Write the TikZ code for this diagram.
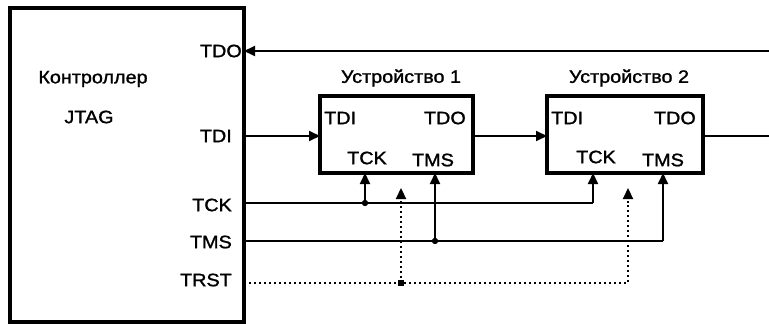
\documentclass[tikz,border=0pt]{standalone}
\usepackage{fontspec}
\setmainfont{Liberation Sans}[FakeStretch=1.1,FakeBold=1.3]
\usetikzlibrary{arrows.meta}
\begin{document}
\begin{tikzpicture}[x=1pt,y=-1pt,
  box/.style={draw, line width=3.2pt, inner sep=0pt, outer sep=0pt},
  wire/.style={line width=2pt},
  arr/.style={wire, -{Triangle[length=11pt,width=10pt]}},
  dots/.style={line width=2.2pt, dash pattern=on 2pt off 3pt},
  darr/.style={dots, -{Triangle[length=11pt,width=10pt]}},
  lbl/.style={font=\fontsize{18}{20}\selectfont, inner sep=0pt},
  jdot/.style={circle, fill, inner sep=0pt, minimum size=6pt},
  jsq/.style={rectangle, fill, inner sep=0pt, minimum size=5.5pt}]
\useasboundingbox (0,0) rectangle (769,324);
% boxes
\node[box, anchor=north west, minimum width=234pt, minimum height=314pt] (ctrl) at (10,8) {};
\node[box, anchor=north west, minimum width=153pt, minimum height=77pt] (dev1) at (320,96) {};
\node[box, anchor=north west, minimum width=156pt, minimum height=77pt] (dev2) at (547,96) {};
% controller labels
\node[lbl] (ctitle) at (93,79) {Контроллер};
\node[lbl] (cjtag) at (89,117) {JTAG};
\node[lbl, anchor=east] (ltdo) at (242,51) {TDO};
\node[lbl, anchor=east] (ltdi) at (232,136) {TDI};
\node[lbl, anchor=east] (ltck) at (232,205) {TCK};
\node[lbl, anchor=east] (ltms) at (232,242) {TMS};
\node[lbl, anchor=east] (ltrst) at (232,280) {TRST};
% device titles
\node[lbl] (t1) at (401,78) {Устройство 1};
\node[lbl] (t2) at (629,78) {Устройство 2};
% device pins
\node[lbl, anchor=west] (d1tdi) at (324,118) {TDI};
\node[lbl, anchor=east] (d1tdo) at (466,118) {TDO};
\node[lbl] (d1tck) at (367,158) {TCK};
\node[lbl] (d1tms) at (433,160) {TMS};
\node[lbl, anchor=west] (d2tdi) at (551,118) {TDI};
\node[lbl, anchor=east] (d2tdo) at (696,118) {TDO};
\node[lbl] (d2tck) at (596,157) {TCK};
\node[lbl] (d2tms) at (663,160) {TMS};
% coordinates
\coordinate (tdoR) at (769,51);
\coordinate (tdoL) at (244,51);
\coordinate (tdiA) at (244,136);
\coordinate (tdiB) at (320,136);
\coordinate (d1o) at (473,136);
\coordinate (d2i) at (547,136);
\coordinate (d2o) at (703,136);
\coordinate (outR) at (769,136);
\coordinate (tckA) at (244,203);
\coordinate (tmsA) at (244,241);
\coordinate (trstA) at (244,283);
\node[jdot] (j1) at (365,203) {};
\node[jdot] (j2) at (435,241) {};
\node[jsq] (j3) at (401,283) {};
\coordinate (tck1) at (365,173);
\coordinate (tms1) at (435,173);
\coordinate (tck2) at (593,173);
\coordinate (tms2) at (663,173);
\coordinate (r1) at (401,188);
\coordinate (r2) at (628,188);
% wires
\draw[arr] (tdoR) -- (tdoL);
\draw[arr] (tdiA) -- (tdiB);
\draw[arr] (d1o) -- (d2i);
\draw[wire] (d2o) -- (outR);
\draw[dots] (trstA) -- (j3.center) -- (r2 |- j3) -- (r2 |- j1);
\draw[darr] (r2 |- j1) -- (r2);
\draw[darr] (j3.center) -- (r1);
\draw[wire] (tckA) -- (tck2 |- tckA);
\draw[arr] (tck2 |- tckA) -- (tck2);
\draw[arr] (j1.center) -- (tck1);
\draw[wire] (tmsA) -- (tms2 |- tmsA);
\draw[arr] (tms2 |- tmsA) -- (tms2);
\draw[arr] (j2.center) -- (tms1);
\node[jdot] at (j1) {};
\node[jdot] at (j2) {};
\node[jsq] at (j3) {};
\end{tikzpicture}
\end{document}
